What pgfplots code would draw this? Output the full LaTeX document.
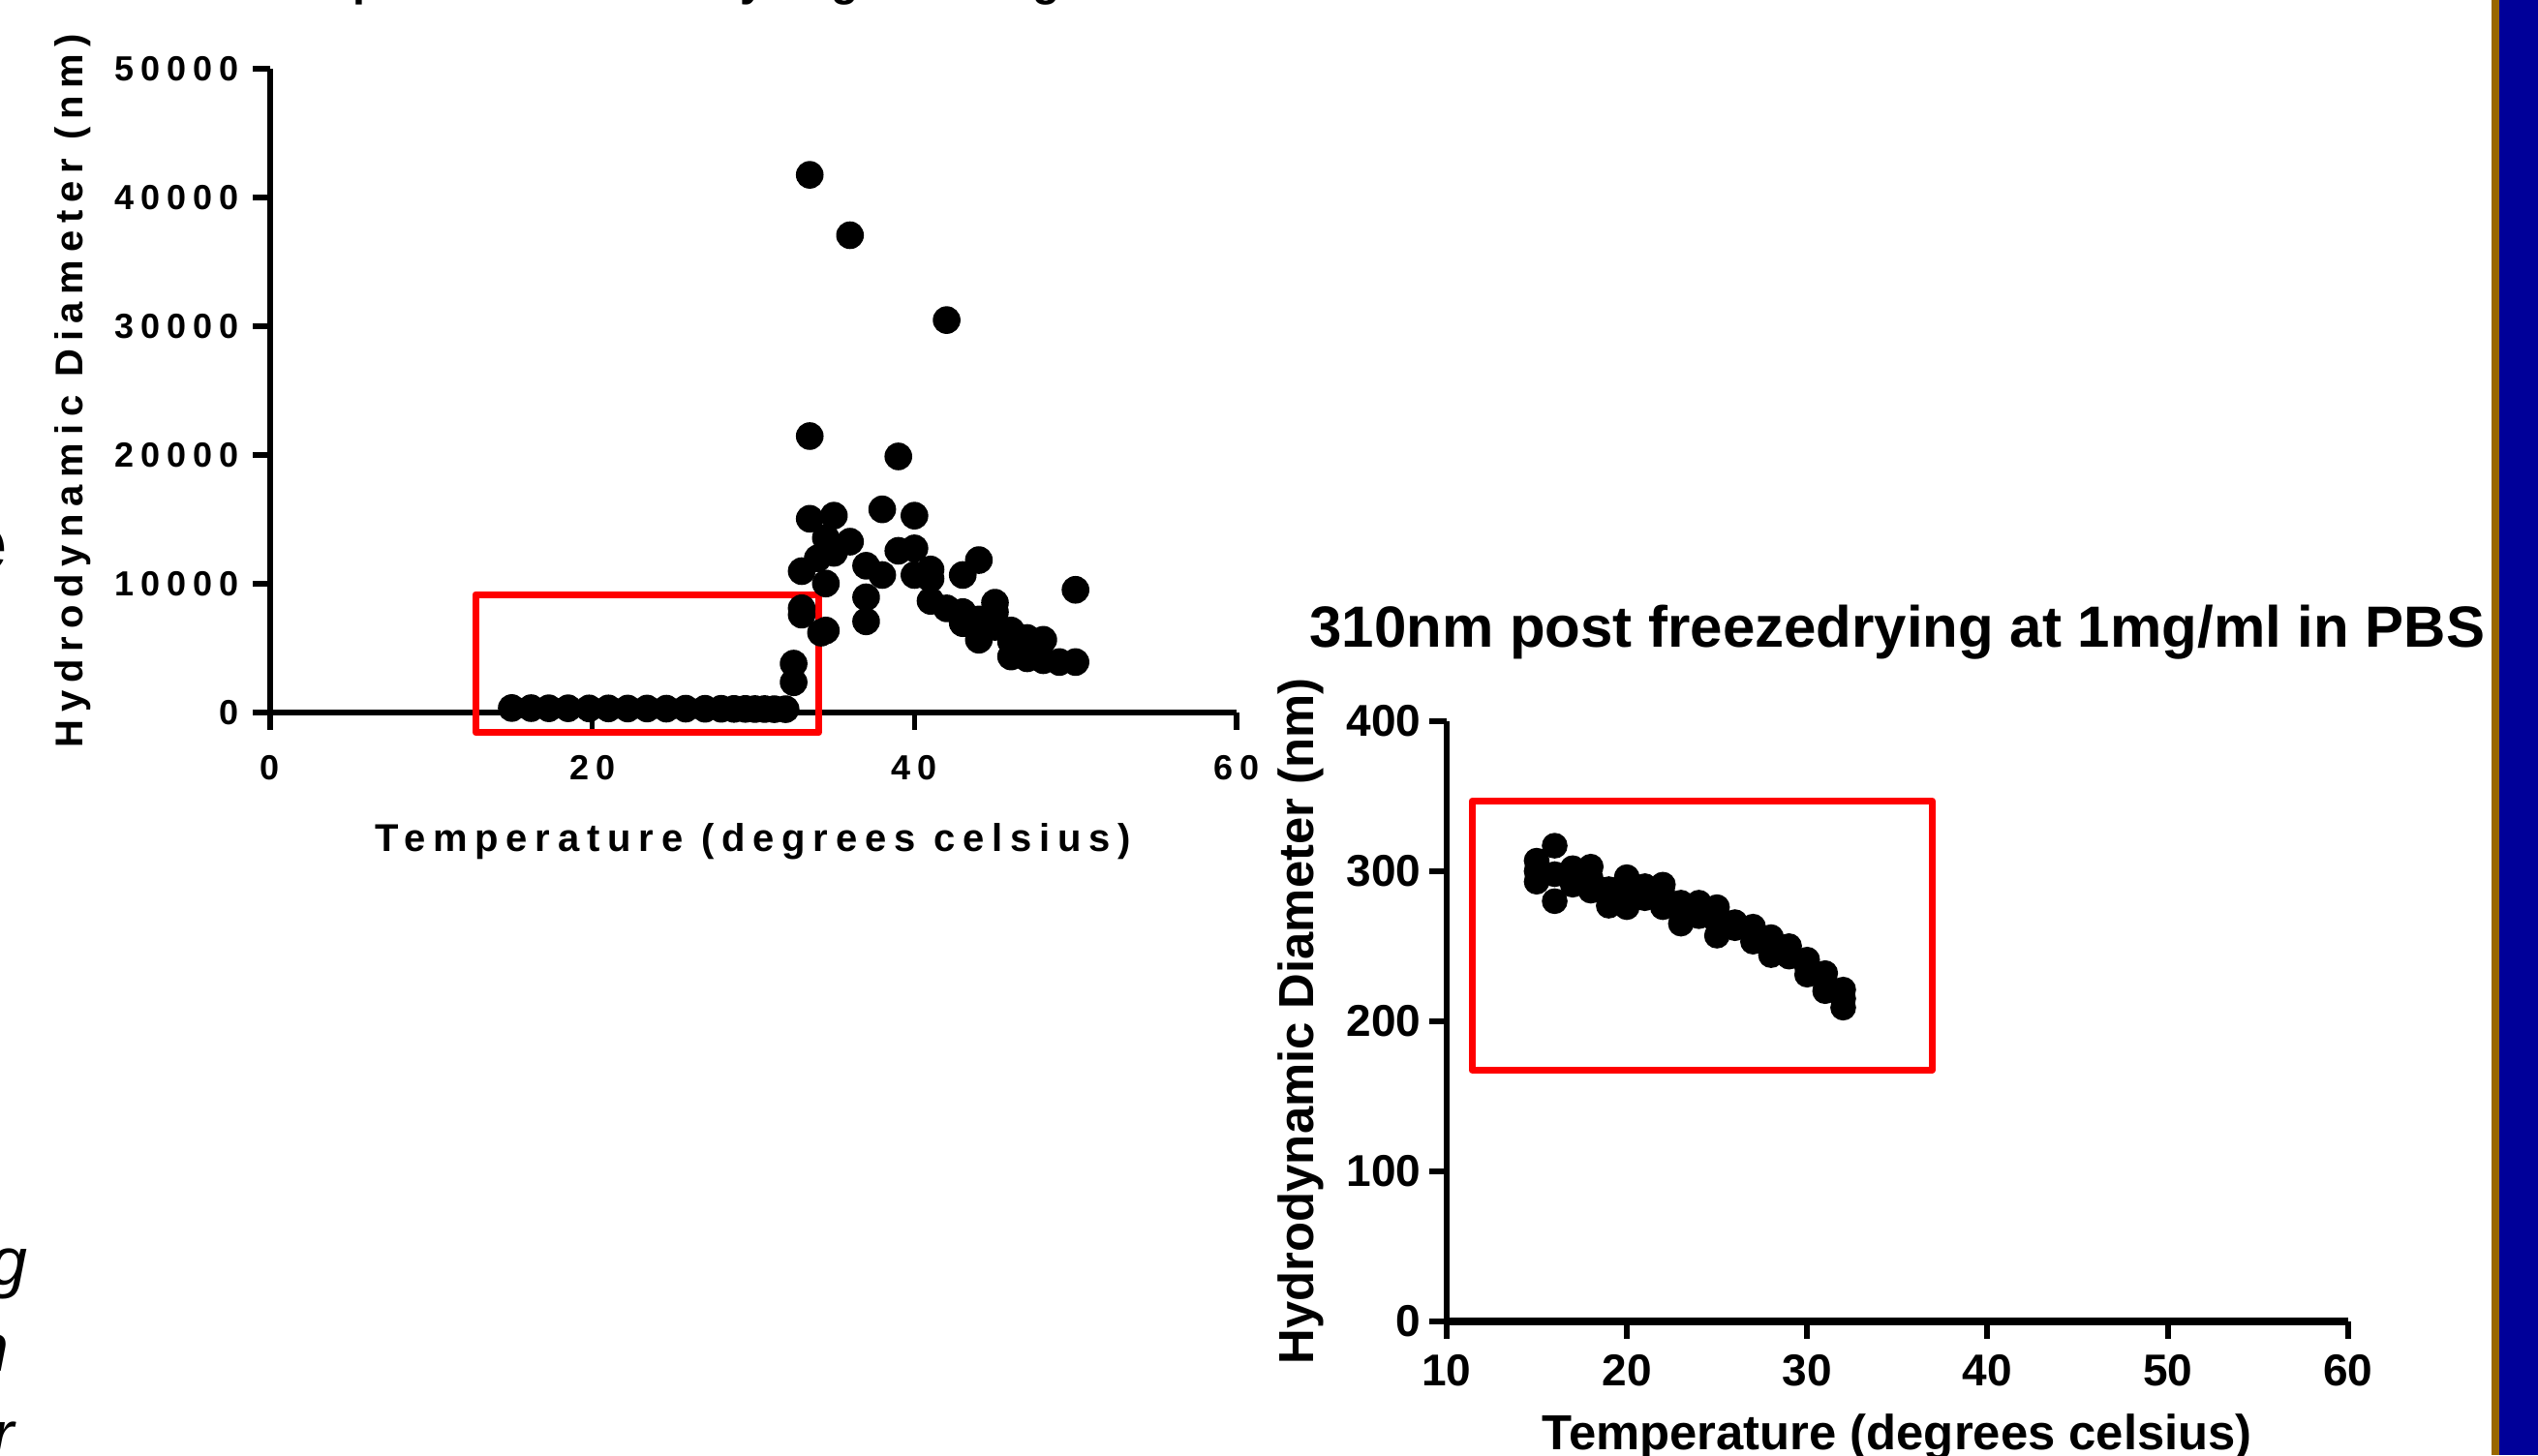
\documentclass[border=0pt]{standalone}
\usepackage{fontspec}
\setmainfont{Liberation Sans}
\newfontfamily\lsp[LetterSpace=19.5]{Liberation Sans}
\usepackage{pgfplots}
\pgfplotsset{compat=1.18}
\definecolor{slideblue}{HTML}{000099}
\definecolor{slidebrown}{HTML}{996600}

\pgfplotstableread{
x y
15 350
16.2 340
17.3 330
18.5 330
19.8 320
21 320
22.2 310
23.4 310
24.6 300
25.8 300
27 290
28 290
28.8 280
29.5 280
30.1 270
30.7 270
31.3 260
32 260
32.5 3800
32.5 2350
33 10980
33 8100
33 7600
33.5 41760
33.5 21470
33.5 15050
34 11980
34.2 6200
34.5 13560
34.5 10020
34.5 6370
35 15290
35 12400
36 37070
36 13270
37 11400
37 8950
37 7080
38 15780
38 10680
39 19890
39 12560
40 15290
40 12750
40 10680
41 11110
41 10390
41 8670
42 30480
42 8090
43 10680
43 7800
43 6940
44 11840
44 7230
44 5650
45 8530
45 7800
45 6650
46 6370
46 5500
46 4350
47 5790
47 4210
48 5650
48 4060
49 3920
50 9530
50 3920
}\predata

\pgfplotstableread{
x y
15 307
15 300
15 293
16 317
16 298
16 280
17 302
17 296
17 291
18 303
18 295
18 287
19 288
19 282
19 277
20 296
20 286
20 276
21 290
21 286
21 282
22 291
22 284
22 276
23 279
23 272
23 265
24 279
24 275
24 270
25 276
25 266
25 257
26 266
26 262
27 263
27 258
27 253
28 256
28 250
28 244
29 250
29 246
29 243
30 241
30 236
30 231
31 232
31 226
31 220
32 221
32 215
32 209
}\postdata

\begin{document}
\begin{tikzpicture}
\path[use as bounding box] (0,0) rectangle (655.25pt,375.75pt);
\fill[white] (0,0) rectangle (655.25pt,375.75pt);
\fill[slidebrown] (643.25pt,0) rectangle (645.25pt,375.75pt);
\fill[slideblue] (645.25pt,0) rectangle (655.25pt,375.75pt);

% fragments of slide text at the left edge
\node[anchor=base east, inner sep=0pt, font=\bfseries\fontsize{20.7}{20.7}\selectfont] at (2.1pt,228.3pt) {e};
\node[anchor=base east, inner sep=0pt, font=\itshape\fontsize{17.5}{17.5}\selectfont] at (7.3pt,44pt) {g};
\node[anchor=base east, inner sep=0pt, font=\itshape\fontsize{17.5}{17.5}\selectfont] at (2.5pt,21.6pt) {n};
\node[anchor=base east, inner sep=0pt, font=\itshape\fontsize{17.5}{17.5}\selectfont] at (3.9pt,-0.9pt) {r};

% left chart
\begin{axis}[
  at={(69.75pt,191.75pt)}, anchor=south west, scale only axis,
  width=249.5pt, height=166.25pt,
  xmin=0, xmax=60, ymin=0, ymax=50000,
  axis lines*=left,
  axis line style={line width=1.4pt, black},
  xtick={0,20,40,60}, ytick={0,10000,20000,30000,40000,50000},
  tick align=outside, major tick length=4.4pt,
  tick style={line width=1.4pt, black},
  scaled y ticks=false,
  /pgf/number format/1000 sep={},
  /pgf/number format/assume math mode=true,
  yticklabel style={font=\lsp\bfseries\fontsize{9}{10}\selectfont, inner xsep=3.5pt},
  xticklabel style={font=\lsp\bfseries\fontsize{9}{10}\selectfont, inner ysep=6.5pt},
  xlabel={Temperature (degrees celsius)},
  ylabel={Hydrodynamic Diameter (nm)},
  xlabel style={font=\lsp\bfseries\fontsize{10}{12}\selectfont, at={(axis description cs:0.5,-0.2165)}, anchor=base},
  ylabel style={font=\lsp\bfseries\fontsize{10}{12}\selectfont, at={(axis description cs:-0.194,0.5)}, anchor=base},
  every axis title shift=0pt,
  title={310nm post freezedrying at 1mg/ml in PBS},
  title style={font=\lsp\bfseries\fontsize{11.6}{13}\selectfont, at={(axis description cs:0.5,1.1135)}, anchor=base},
  clip=false,
]
\addplot[only marks, mark=*, mark size=3.375pt, mark options={fill=black, draw=none}] table[x=x,y=y] {\predata};
\draw[red, line width=1.75pt, line join=round] (axis cs:12.75,-1556) rectangle (axis cs:34.06,9173);
\end{axis}

% right chart
\begin{axis}[
  at={(373.45pt,34.625pt)}, anchor=south west, scale only axis,
  width=232.75pt, height=154.875pt,
  xmin=10, xmax=60, ymin=0, ymax=400,
  axis lines*=left,
  x axis line style={line width=2pt, black},
  y axis line style={line width=1.5pt, black},
  xtick={10,20,30,40,50,60}, ytick={0,100,200,300,400},
  tick align=outside, major tick length=4.5pt,
  tick style={line width=1.5pt, black},
  /pgf/number format/assume math mode=true,
  yticklabel style={font=\bfseries\fontsize{11.5}{12}\selectfont, inner xsep=1.9pt},
  xticklabel style={font=\bfseries\fontsize{11.5}{12}\selectfont, inner ysep=4pt},
  xlabel={Temperature (degrees celsius)},
  ylabel={Hydrodynamic Diameter (nm)},
  xlabel style={font=\bfseries\fontsize{12.7}{14}\selectfont, at={(axis description cs:0.5,-0.2139)}, anchor=base},
  ylabel style={font=\bfseries\fontsize{12.7}{14}\selectfont, at={(axis description cs:-0.148,0.5)}, anchor=base},
  every axis title shift=0pt,
  title={310nm post freezedrying at 1mg/ml in PBS},
  title style={font=\bfseries\fontsize{15}{17}\selectfont, at={(axis description cs:0.5,1.124)}, anchor=base},
  clip=false,
]
\addplot[only marks, mark=*, mark size=3.125pt, mark options={fill=black, draw=none}] table[x=x,y=y] {\postdata};
\draw[red, line width=1.75pt, line join=round] (axis cs:11.41,167.4) rectangle (axis cs:36.94,346.8);
\end{axis}
\end{tikzpicture}
\end{document}
